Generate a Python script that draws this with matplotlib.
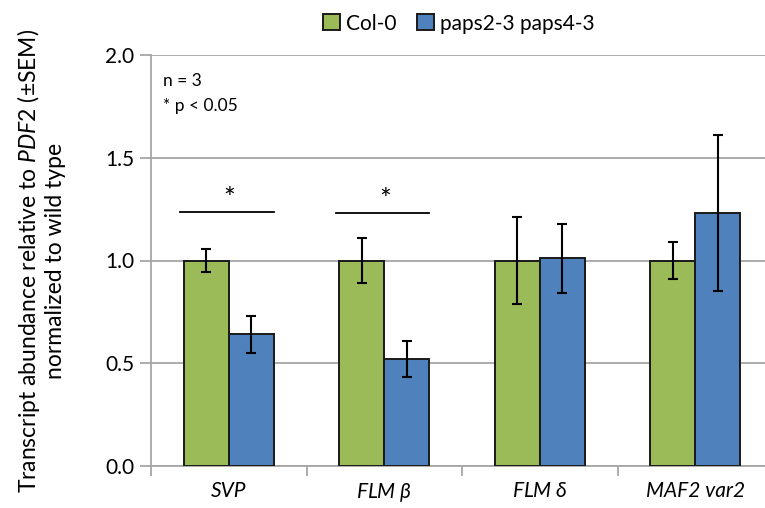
import numpy as np
import matplotlib
matplotlib.use("Agg")
import matplotlib.pyplot as plt

plt.rcParams['font.family'] = ['Lato', 'DejaVu Sans']
plt.rcParams['mathtext.fontset'] = 'custom'
plt.rcParams['mathtext.it'] = 'Lato:italic'
plt.rcParams['mathtext.rm'] = 'Lato'

# data
genes = ['SVP', r'FLM $\beta$', r'FLM $\delta$', 'MAF2 var2']
col0 = [1.0, 1.0, 1.0, 1.0]
col0_err = [0.056, 0.11, 0.21, 0.09]
paps = [0.64, 0.52, 1.01, 1.23]
paps_err = [0.09, 0.087, 0.17, 0.38]
signif = [True, True, False, False]
sig_y = [1.237, 1.23]

green = '#9BBB59'
blue = '#4F81BD'
grid_c = '#a6a6a6'

fig = plt.figure(figsize=(7.65, 5.08), dpi=100)
ax = fig.add_axes([151 / 765, 1 - 466 / 508, (773 - 151) / 765, (466 - 55) / 508])

x = np.arange(len(genes))
w = 0.29
ekw = dict(elinewidth=1.5, capthick=1.5, ecolor='black')
ax.bar(x - w / 2, col0, w, yerr=col0_err, color=green, edgecolor='#1a1a1a',
       linewidth=1.4, capsize=3.8, error_kw=ekw, label='Col-0', zorder=3)
ax.bar(x + w / 2, paps, w, yerr=paps_err, color=blue, edgecolor='#1a1a1a',
       linewidth=1.4, capsize=3.8, error_kw=ekw, label='paps2-3 paps4-3', zorder=3)

# significance marks
for i, s in enumerate(signif):
    if s:
        y = sig_y[i]
        ax.plot([i - w * 1.07, i + w], [y, y], color='black', lw=1.3, zorder=4)
        ax.text(i + 0.005, y - 0.005, '*', ha='center', va='bottom', fontsize=20)

ax.set_ylim(0, 2.0)
ax.set_xlim(-0.5, 3.5)
ax.set_yticks([0, 0.5, 1.0, 1.5, 2.0])
ax.set_yticklabels(['0.0', '0.5', '1.0', '1.5', '2.0'])
ax.yaxis.grid(True, color=grid_c, lw=1.3, zorder=0)
ax.set_axisbelow(True)

ax.set_xticks(x)
ax.set_xticklabels(genes, style='italic')
ax.set_xticks(np.arange(-0.5, 4.0, 1.0), minor=True)
ax.tick_params(axis='x', which='major', length=0, pad=11, labelsize=15)
ax.tick_params(axis='x', which='minor', length=7, color=grid_c, width=1.3)
ax.tick_params(axis='y', length=8, color=grid_c, width=1.3, labelsize=15, pad=4)

for s in ['top', 'right']:
    ax.spines[s].set_visible(False)
for s in ['left', 'bottom']:
    ax.spines[s].set_color(grid_c)
    ax.spines[s].set_linewidth(1.3)

ax.set_ylabel('Transcript abundance relative to $\\mathit{PDF2}$ (±SEM)\nnormalized to wild type',
              fontsize=16.5, linespacing=1.15)
ax.yaxis.set_label_coords(-0.137, 0.5)

ax.text(0.02, 0.955, 'n = 3', transform=ax.transAxes, fontsize=12.5, va='top')
ax.text(0.02, 0.895, '* p < 0.05', transform=ax.transAxes, fontsize=12.5, va='top')

fig.legend(loc='upper center', bbox_to_anchor=(0.6, 1.01), ncol=2, frameon=False,
           fontsize=15, handlelength=0.8, handleheight=0.8, handletextpad=0.3,
           columnspacing=1.0)

fig.savefig('out.png', dpi=100)
